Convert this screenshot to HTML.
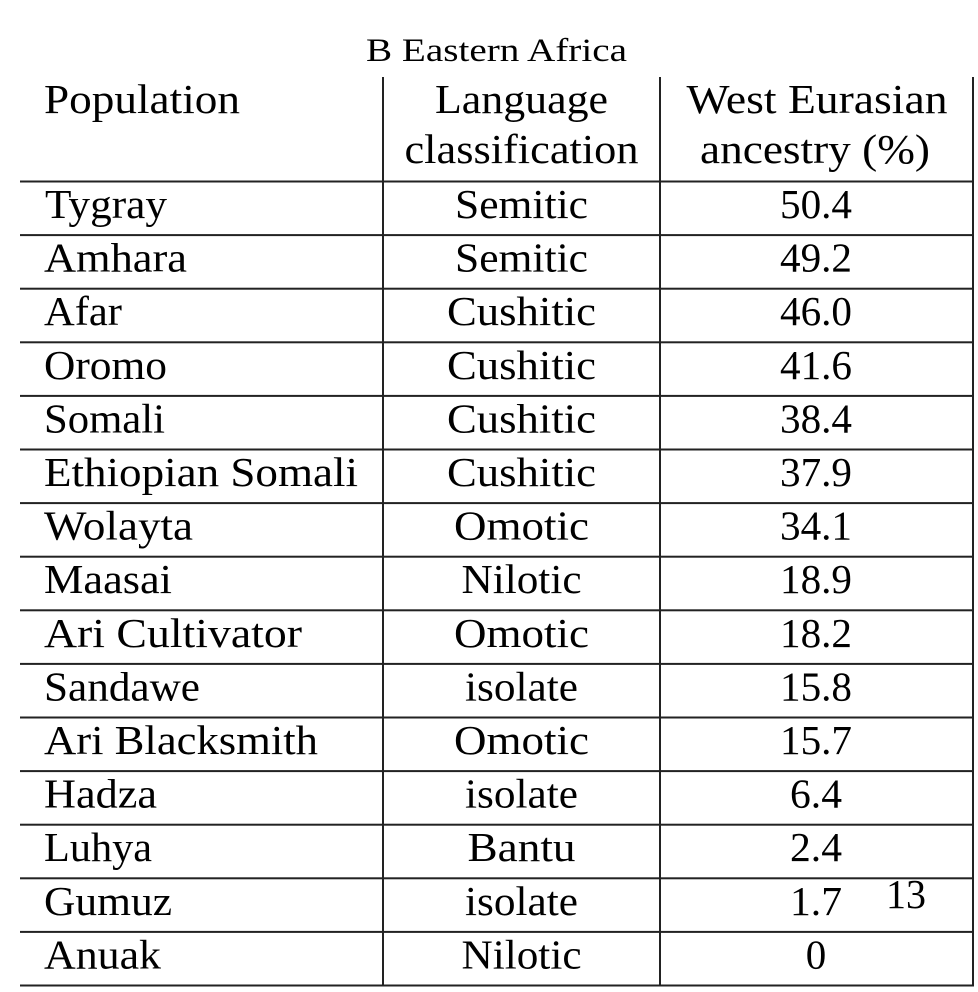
<!DOCTYPE html>
<html>
<head>
<meta charset="utf-8">
<style>
html,body{margin:0;padding:0;background:#fff;}
svg{display:block;}
text{font-family:"Liberation Serif",serif;fill:#000;}
.b{font-size:41px;}
.t{font-size:33px;}
</style>
</head>
<body>
<svg width="978" height="992" viewBox="0 0 978 992" xmlns="http://www.w3.org/2000/svg">
<rect width="978" height="992" fill="#fff"/>
<g fill="#222">
<rect x="20" y="180.5" width="954" height="2"/>
<rect x="20" y="234.1" width="954" height="2"/>
<rect x="20" y="287.7" width="954" height="2"/>
<rect x="20" y="341.3" width="954" height="2"/>
<rect x="20" y="394.9" width="954" height="2"/>
<rect x="20" y="448.5" width="954" height="2"/>
<rect x="20" y="502.1" width="954" height="2"/>
<rect x="20" y="555.7" width="954" height="2"/>
<rect x="20" y="609.3" width="954" height="2"/>
<rect x="20" y="662.9" width="954" height="2"/>
<rect x="20" y="716.5" width="954" height="2"/>
<rect x="20" y="770.1" width="954" height="2"/>
<rect x="20" y="823.7" width="954" height="2"/>
<rect x="20" y="877.3" width="954" height="2"/>
<rect x="20" y="930.9" width="954" height="2"/>
<rect x="20" y="984.5" width="954" height="2"/>
<rect x="382" y="77" width="2" height="909"/>
<rect x="659" y="77" width="2" height="909"/>
<rect x="972" y="77" width="2" height="909"/>
</g>

<text class="t" x="366" y="61" textLength="261" lengthAdjust="spacingAndGlyphs">B Eastern Africa</text>

<text class="b" x="44" y="113" textLength="196" lengthAdjust="spacingAndGlyphs">Population</text>
<text class="b" x="521.5" y="113" text-anchor="middle" textLength="173" lengthAdjust="spacingAndGlyphs">Language</text>
<text class="b" x="521.5" y="163" text-anchor="middle" textLength="234" lengthAdjust="spacingAndGlyphs">classification</text>
<text class="b" x="817" y="113" text-anchor="middle" textLength="261" lengthAdjust="spacingAndGlyphs">West Eurasian</text>
<text class="b" x="815" y="163" text-anchor="middle" textLength="230" lengthAdjust="spacingAndGlyphs">ancestry (%)</text>

<text class="b" x="45" y="218" textLength="122" lengthAdjust="spacingAndGlyphs">Tygray</text>
<text class="b" x="44" y="271.6" textLength="143" lengthAdjust="spacingAndGlyphs">Amhara</text>
<text class="b" x="44" y="325.2" textLength="78" lengthAdjust="spacingAndGlyphs">Afar</text>
<text class="b" x="44" y="378.8" textLength="123" lengthAdjust="spacingAndGlyphs">Oromo</text>
<text class="b" x="44" y="432.4" textLength="121" lengthAdjust="spacingAndGlyphs">Somali</text>
<text class="b" x="44" y="486" textLength="314" lengthAdjust="spacingAndGlyphs">Ethiopian Somali</text>
<text class="b" x="44" y="539.6" textLength="149" lengthAdjust="spacingAndGlyphs">Wolayta</text>
<text class="b" x="44" y="593.2" textLength="128" lengthAdjust="spacingAndGlyphs">Maasai</text>
<text class="b" x="44" y="646.8" textLength="258" lengthAdjust="spacingAndGlyphs">Ari Cultivator</text>
<text class="b" x="44" y="700.4" textLength="156" lengthAdjust="spacingAndGlyphs">Sandawe</text>
<text class="b" x="44" y="754" textLength="274" lengthAdjust="spacingAndGlyphs">Ari Blacksmith</text>
<text class="b" x="44" y="807.6" textLength="113" lengthAdjust="spacingAndGlyphs">Hadza</text>
<text class="b" x="44" y="861.2" textLength="108" lengthAdjust="spacingAndGlyphs">Luhya</text>
<text class="b" x="44" y="914.8" textLength="128" lengthAdjust="spacingAndGlyphs">Gumuz</text>
<text class="b" x="44" y="968.4" textLength="117" lengthAdjust="spacingAndGlyphs">Anuak</text>

<text class="b" x="521.5" y="218" text-anchor="middle" textLength="133" lengthAdjust="spacingAndGlyphs">Semitic</text>
<text class="b" x="521.5" y="271.6" text-anchor="middle" textLength="133" lengthAdjust="spacingAndGlyphs">Semitic</text>
<text class="b" x="521.5" y="325.2" text-anchor="middle" textLength="149" lengthAdjust="spacingAndGlyphs">Cushitic</text>
<text class="b" x="521.5" y="378.8" text-anchor="middle" textLength="149" lengthAdjust="spacingAndGlyphs">Cushitic</text>
<text class="b" x="521.5" y="432.4" text-anchor="middle" textLength="149" lengthAdjust="spacingAndGlyphs">Cushitic</text>
<text class="b" x="521.5" y="486" text-anchor="middle" textLength="149" lengthAdjust="spacingAndGlyphs">Cushitic</text>
<text class="b" x="521.5" y="539.6" text-anchor="middle" textLength="135" lengthAdjust="spacingAndGlyphs">Omotic</text>
<text class="b" x="521.5" y="593.2" text-anchor="middle" textLength="120" lengthAdjust="spacingAndGlyphs">Nilotic</text>
<text class="b" x="521.5" y="646.8" text-anchor="middle" textLength="135" lengthAdjust="spacingAndGlyphs">Omotic</text>
<text class="b" x="521.5" y="700.4" text-anchor="middle" textLength="113" lengthAdjust="spacingAndGlyphs">isolate</text>
<text class="b" x="521.5" y="754" text-anchor="middle" textLength="135" lengthAdjust="spacingAndGlyphs">Omotic</text>
<text class="b" x="521.5" y="807.6" text-anchor="middle" textLength="113" lengthAdjust="spacingAndGlyphs">isolate</text>
<text class="b" x="521.5" y="861.2" text-anchor="middle" textLength="108" lengthAdjust="spacingAndGlyphs">Bantu</text>
<text class="b" x="521.5" y="914.8" text-anchor="middle" textLength="113" lengthAdjust="spacingAndGlyphs">isolate</text>
<text class="b" x="521.5" y="968.4" text-anchor="middle" textLength="120" lengthAdjust="spacingAndGlyphs">Nilotic</text>

<text class="b" x="816" y="218" text-anchor="middle" textLength="72" lengthAdjust="spacingAndGlyphs">50.4</text>
<text class="b" x="816" y="271.6" text-anchor="middle" textLength="72" lengthAdjust="spacingAndGlyphs">49.2</text>
<text class="b" x="816" y="325.2" text-anchor="middle" textLength="72" lengthAdjust="spacingAndGlyphs">46.0</text>
<text class="b" x="816" y="378.8" text-anchor="middle" textLength="72" lengthAdjust="spacingAndGlyphs">41.6</text>
<text class="b" x="816" y="432.4" text-anchor="middle" textLength="72" lengthAdjust="spacingAndGlyphs">38.4</text>
<text class="b" x="816" y="486" text-anchor="middle" textLength="72" lengthAdjust="spacingAndGlyphs">37.9</text>
<text class="b" x="816" y="539.6" text-anchor="middle" textLength="72" lengthAdjust="spacingAndGlyphs">34.1</text>
<text class="b" x="816" y="593.2" text-anchor="middle" textLength="72" lengthAdjust="spacingAndGlyphs">18.9</text>
<text class="b" x="816" y="646.8" text-anchor="middle" textLength="72" lengthAdjust="spacingAndGlyphs">18.2</text>
<text class="b" x="816" y="700.4" text-anchor="middle" textLength="72" lengthAdjust="spacingAndGlyphs">15.8</text>
<text class="b" x="816" y="754" text-anchor="middle" textLength="72" lengthAdjust="spacingAndGlyphs">15.7</text>
<text class="b" x="816" y="807.6" text-anchor="middle" textLength="52" lengthAdjust="spacingAndGlyphs">6.4</text>
<text class="b" x="816" y="861.2" text-anchor="middle" textLength="52" lengthAdjust="spacingAndGlyphs">2.4</text>
<text class="b" x="816" y="914.8" text-anchor="middle" textLength="52" lengthAdjust="spacingAndGlyphs">1.7</text>
<text class="b" x="816" y="968.4" text-anchor="middle">0</text>

<text class="b" x="886" y="908" textLength="40" lengthAdjust="spacingAndGlyphs">13</text>
</svg>
</body>
</html>
